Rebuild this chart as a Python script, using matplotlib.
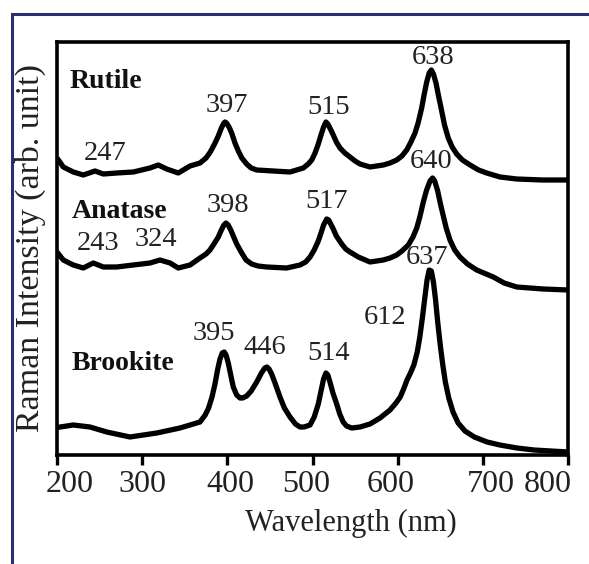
import matplotlib
matplotlib.use("Agg")
import matplotlib.pyplot as plt
import matplotlib.transforms as mtransforms
from matplotlib.patches import Rectangle

plt.rcParams['font.family'] = ['Liberation Serif', 'DejaVu Serif']

# ---- data (wavelength in nm, arbitrary intensity incl. offset) ----
rutile_x = [200, 207.4, 219.1, 230.9, 244.6, 254.4, 270.1, 289.6, 309.2, 318.9, 328.8, 342.4,
            356.2, 367.9, 375, 380, 385, 389.4, 393, 396, 397.3, 399, 402, 405.1, 409, 412.9,
            417, 422.7, 428, 434.5, 454.0, 473.6, 489.2, 495, 499.1, 503, 506.8, 510, 513,
            515.8, 518, 521, 524.4, 528, 532.3, 538, 544, 550, 555.8, 567.5, 583.1, 591,
            598.9, 605, 610.6, 615, 620.4, 624, 628.2, 631, 634.1, 637, 639.5, 642, 645, 648,
            651.7, 655, 659.4, 664, 669.3, 676, 685, 695, 704.5, 720.2, 739.8, 770, 800]
rutile_y = [297, 288, 283, 280, 284, 281, 282, 283, 287, 290, 286, 282,
            289, 292, 297, 303, 311, 319, 327, 332, 333, 332, 328, 322, 312, 304,
            297, 291, 287, 285, 284, 283, 287, 291, 295, 302, 311, 320, 328,
            333, 331, 326, 320, 313, 307, 302, 298, 294, 291, 288, 290, 292,
            295, 299, 305, 312, 322, 332, 347, 360, 373, 382, 385, 381, 372, 359,
            344, 330, 317, 308, 301, 295, 290, 285, 282, 278, 276, 275, 275]

anatase_x = [200, 207.4, 219.1, 230.9, 242.6, 254.4, 270.1, 289.6, 309.2, 320.9, 332.7, 342.4,
             356.2, 367.9, 375, 379.6, 385, 389.4, 393, 396, 398.4, 401, 404, 407, 411, 416.9,
             422, 428.6, 436, 446.2, 469.7, 485.3, 492, 497.1, 502, 506.8, 510, 513, 516.7,
             519, 522, 524.4, 528, 534.3, 539, 544, 553.8, 567.5, 583.1, 591, 598.9, 605,
             612.5, 618, 622.4, 626, 630.1, 634, 638, 641, 643.5, 647, 650, 653.6, 657, 661.4,
             667, 673.2, 682, 692.8, 712.3, 725, 739.8, 771, 800]
anatase_y = [203, 195, 190, 187, 192, 188, 188, 190, 192, 195, 192, 187,
             190, 197, 201, 205, 212, 218, 225, 230, 232, 230, 225, 219, 211, 202,
             195, 191, 189, 188, 187, 190, 193, 198, 205, 214, 222, 230, 236,
             235, 230, 226, 219, 211, 206, 203, 198, 193, 195, 197, 200, 204,
             210, 218, 227, 238, 253, 265, 274, 277, 274, 264, 252, 239, 227, 215,
             205, 198, 191, 185, 178, 172, 168, 166, 165]

brookite_x = [200, 219.1, 238.7, 258.4, 285.7, 317.1, 344.4, 367.9, 374, 378, 382, 385.5,
              388.5, 391.4, 394, 396.4, 398.5, 401.1, 404, 407, 411, 414.9, 418, 422.7, 428,
              434.5, 440, 444, 446.5, 449, 452, 456, 461.8, 467, 473.6, 480, 485.3, 490, 497.1,
              502, 506.8, 510, 513, 515.8, 518, 520.5, 524, 528.4, 532, 536, 540, 546, 555.8,
              567.5, 579.3, 591, 598, 603, 607, 611, 615, 619, 623, 626, 629, 632, 634.5, 637,
              639.5, 642, 644.5, 647, 650, 653, 656, 660, 665, 671, 679, 690, 705, 720, 740,
              760, 780, 800]
brookite_y = [27.5, 30, 28, 23, 18, 22, 27, 33, 40, 47, 58, 71,
              85, 96, 102, 103, 100, 92, 80, 68, 60, 57, 57, 59, 64,
              73, 82, 87, 88, 86, 81, 72, 58, 47, 38, 31, 28, 28, 30,
              38, 51, 64, 76, 82, 80, 73, 62, 51, 41, 33, 29, 27, 28,
              31, 37, 45, 52, 58, 66, 75, 82, 90, 103, 118, 137, 158, 175, 185,
              184, 173, 155, 133, 110, 90, 73, 57, 43, 32, 24, 18, 13, 10, 7,
              5, 4, 3]

phase_names = ["Rutile", "Anatase", "Brookite"]
phase_label_pos = [(215.3, 374), (217.6, 243), (217.6, 91)]

peak_labels = ["247", "397", "515", "638",
               "243", "324", "398", "517", "640",
               "395", "446", "514", "612", "637"]
peak_label_pos = [(256.4, 302), (399.6, 350), (519.4, 348), (641.5, 397),
                  (248.1, 212), (316.2, 216), (400.8, 250), (517.0, 253), (639.2, 293),
                  (384.3, 121), (444.2, 108), (519.4, 102), (585.1, 138), (634.5, 197)]

xticks = [200, 300, 400, 500, 600, 700, 800]
# horizontal shift (pixels) of each tick label as drawn in the reference
xtick_label_shift = [13, 0, 3, -6, -7, 8, -20]

# ---- figure ----
fig = plt.figure(figsize=(5.89, 5.64), dpi=100)
fig.patch.set_facecolor("white")
ax = fig.add_axes([57 / 589, 1 - 455 / 564, 511 / 589, 413 / 564])

lw = 3.8
for xs, ys in [(rutile_x, rutile_y), (anatase_x, anatase_y), (brookite_x, brookite_y)]:
    ax.plot(xs, ys, color="black", lw=lw, solid_joinstyle="round", solid_capstyle="butt")

ax.set_xlim(200, 800)
ax.set_ylim(0, 413)
ax.set_xticks(xticks)
ax.set_xticklabels([str(t) for t in xticks])
ax.set_yticks([])
ax.tick_params(axis="x", direction="out", length=7, width=2.4, labelsize=23,
               pad=4, labelcolor="#222222")
for lbl, dx in zip(ax.get_xticklabels(), xtick_label_shift):
    lbl.set_transform(lbl.get_transform() +
                      mtransforms.ScaledTranslation(dx / 100, 0, fig.dpi_scale_trans))
for sp in ax.spines.values():
    sp.set_linewidth(2.6)
    sp.set_color("black")

ax.set_xlabel("Wavelength (nm)", fontsize=22, color="#222222")
ax.xaxis.set_label_coords(0.575, -0.13)
ax.set_ylabel("Raman Intensity (arb. unit)", fontsize=24.5, color="#222222")
ax.yaxis.set_label_coords(-0.022, 0.5)

for name, (px, py) in zip(phase_names, phase_label_pos):
    ax.text(px, py, name, fontsize=20, fontweight="bold", ha="left", va="center", color="#111111")

for lab, (px, py) in zip(peak_labels, peak_label_pos):
    ax.text(px, py, lab, fontsize=20.5, ha="center", va="center", color="#222222")

# outer navy frame (clipped by the image at right and bottom)
fig.patches.append(Rectangle((12 / 589, -0.1), 1.2, (564 - 14) / 564 + 0.1,
                             transform=fig.transFigure, fill=False,
                             edgecolor="#2b2f6e", lw=2.2, clip_on=False))

fig.savefig("out.png", dpi=100, facecolor="white")
